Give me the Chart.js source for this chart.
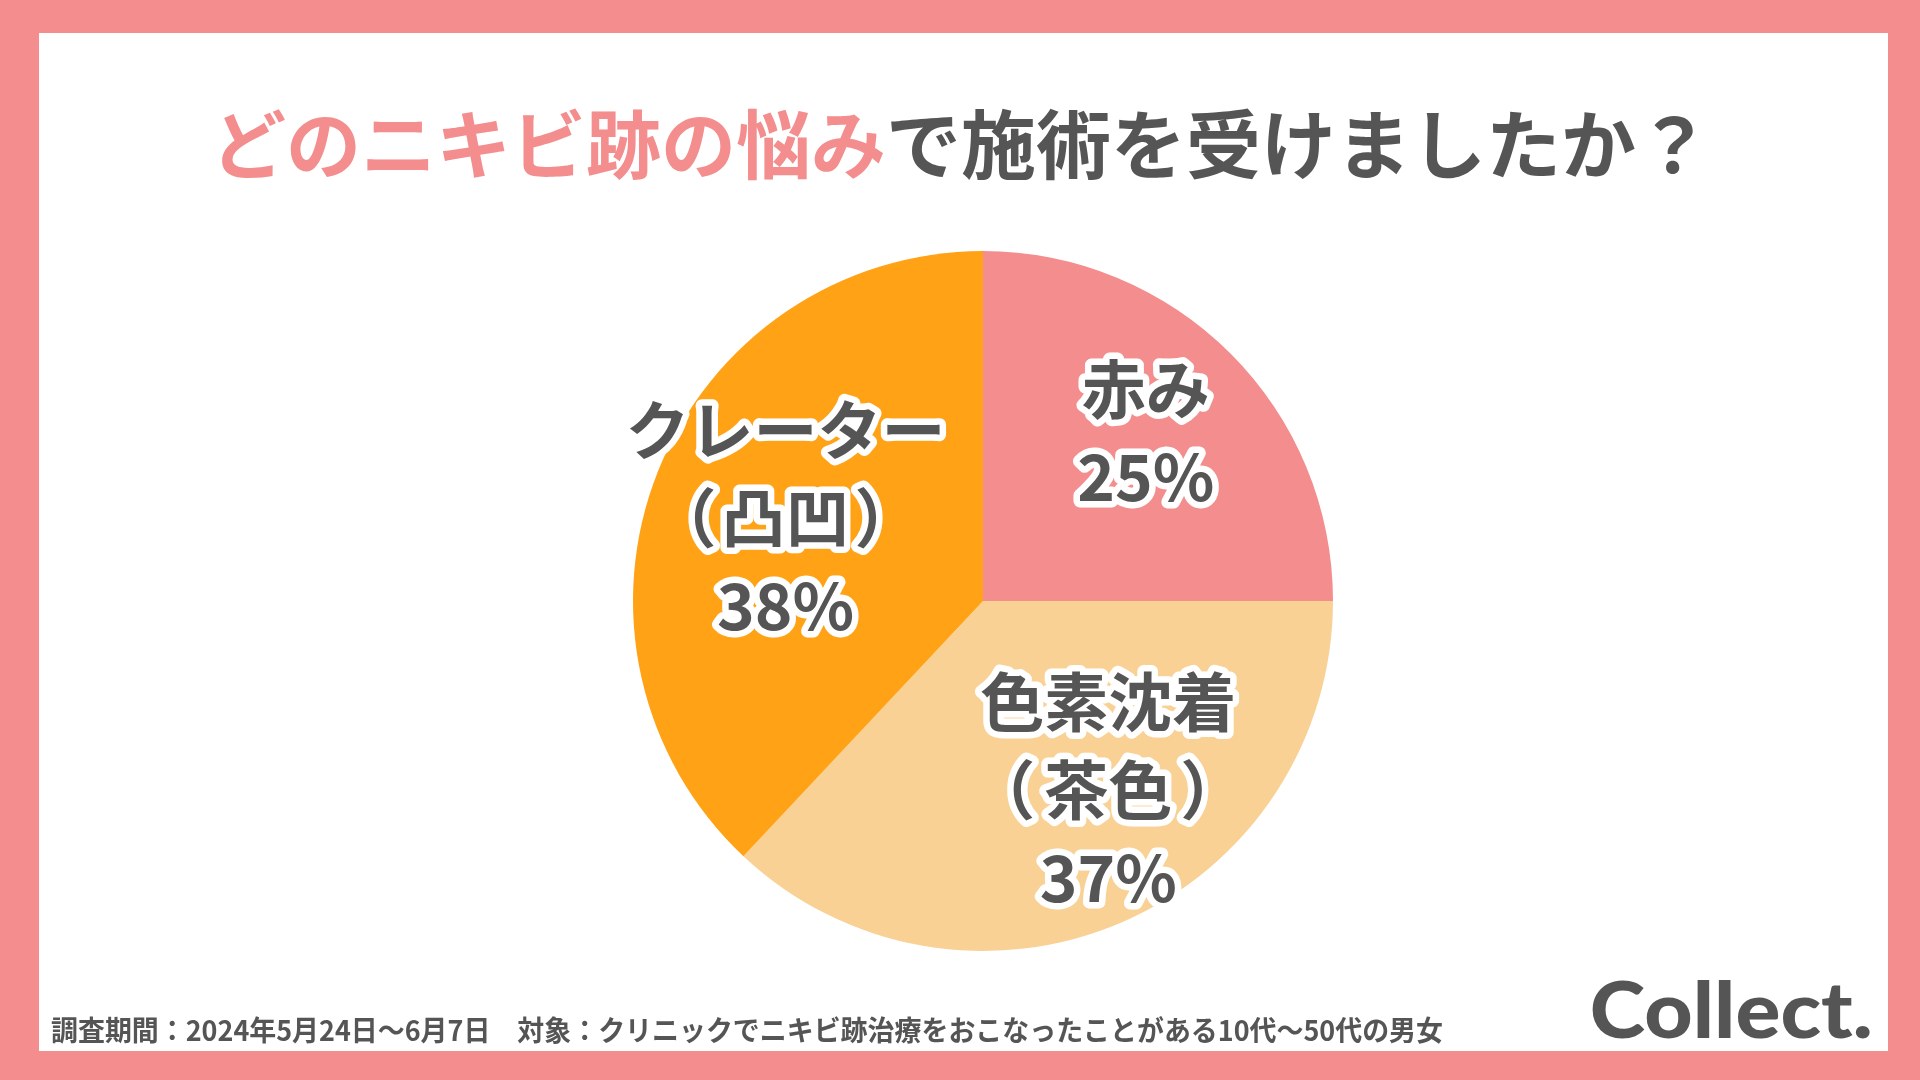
<!DOCTYPE html>
<html>
<head>
<meta charset="utf-8">
<script src="https://cdn.jsdelivr.net/npm/chart.js@4.4.1/dist/chart.umd.min.js"></script>
<style>
  html, body { margin:0; padding:0; width:1920px; height:1080px; overflow:hidden; background:#F48D8D; }
  #panel { position:absolute; left:39px; top:33px; width:1849px; height:1018px; background:#ffffff; }
  #wrap { position:absolute; left:0; top:0; width:1920px; height:1080px; }
</style>
</head>
<body>
<div id="panel"></div>
<div id="wrap"><canvas id="c" width="1920" height="1080"></canvas></div>
<script>
// ---- data ----
const categories = ["赤み", "色素沈着（茶色）", "クレーター（凸凹）"];
const labelLines = [["赤み"], ["色素沈着", "（茶色）"], ["クレーター", "（凸凹）"]];
const values = [25, 37, 38];
const valueLabels = ["25%", "37%", "38%"];
const titlePink = "どのニキビ跡の悩み";
const titleGray = "で施術を受けましたか？";
const footnote = "調査期間：2024年5月24日～6月7日　対象：クリニックでニキビ跡治療をおこなったことがある10代～50代の男女";
const logoText = "Collect.";

// ---- styles ----
const sliceColors = ["#F48D8D", "#F9D195", "#FFA216"];
const labelOffsets = [[2, -7], [35, -20], [14, 0]];
const GRAY = "#555555";
const PINK = "#F48D8D";
const JP = '"Noto Sans CJK JP", "Noto Sans", sans-serif';

function drawParenLine(ctx, text, x, y) {
  const parts = [];
  if (text.startsWith("（") && text.endsWith("）")) {
    const inner = text.slice(1, -1);
    ctx.textAlign = "center";
    const mi = ctx.measureText(inner);
    const inkL = x - mi.actualBoundingBoxLeft;
    const inkR = x + mi.actualBoundingBoxRight;
    ctx.textAlign = "left";
    const mp = ctx.measureText("（");
    const mq = ctx.measureText("）");
    const gap = 12;
    parts.push(["center", inner, x]);
    parts.push(["left", "（", inkL - gap - mp.actualBoundingBoxRight]);
    parts.push(["left", "）", inkR + gap + mq.actualBoundingBoxLeft]);
  } else {
    parts.push(["center", text, x]);
  }
  parts.forEach(p => { ctx.textAlign = p[0]; ctx.strokeText(p[1], p[2], y); });
  parts.forEach(p => { ctx.textAlign = p[0]; ctx.fillText(p[1], p[2], y); });
  ctx.textAlign = "center";
}

const decorPlugin = {
  id: "decor",
  afterDatasetsDraw(chart) {
    const ctx = chart.ctx;
    const meta = chart.getDatasetMeta(0);
    // slice labels
    ctx.save();
    ctx.font = `700 64px ${JP}`;
    ctx.textAlign = "center";
    ctx.textBaseline = "middle";
    ctx.lineJoin = "round";
    ctx.lineWidth = 13;
    ctx.strokeStyle = "#ffffff";
    ctx.fillStyle = GRAY;
    meta.data.forEach((arc, i) => {
      const p = arc.getProps(["x", "y", "startAngle", "endAngle", "outerRadius"], true);
      const mid = (p.startAngle + p.endAngle) / 2;
      const r = p.outerRadius * 0.65;
      const cx = p.x + Math.cos(mid) * r + labelOffsets[i][0];
      const cy = p.y + Math.sin(mid) * r + labelOffsets[i][1];
      const lines = labelLines[i].concat([valueLabels[i]]);
      const lh = 88;
      const y0 = cy - (lines.length - 1) * lh / 2;
      lines.forEach((t, k) => drawParenLine(ctx, t, cx, y0 + k * lh));
    });
    ctx.restore();

    // title
    ctx.save();
    ctx.font = `700 75px ${JP}`;
    ctx.textBaseline = "middle";
    ctx.textAlign = "left";
    const w1 = ctx.measureText(titlePink).width;
    const w2 = ctx.measureText(titleGray).width;
    const tx = 960 - (w1 + w2) / 2 + 1;
    const ty = 144;
    ctx.fillStyle = PINK;
    ctx.fillText(titlePink, tx, ty);
    ctx.fillStyle = GRAY;
    ctx.fillText(titleGray, tx + w1, ty);
    ctx.restore();

    // footnote
    ctx.save();
    ctx.font = `700 28px ${JP}`;
    ctx.textBaseline = "alphabetic";
    ctx.textAlign = "left";
    ctx.fillStyle = GRAY;
    const fw = ctx.measureText(footnote).width;
    const target = 1392;
    ctx.translate(51, 1041);
    ctx.scale(target / fw, 1);
    ctx.fillText(footnote, 0, 0);
    ctx.restore();

    // logo
    ctx.save();
    ctx.font = `900 78px Lato, "DejaVu Sans", sans-serif`;
    ctx.textBaseline = "alphabetic";
    ctx.textAlign = "left";
    ctx.fillStyle = GRAY;
    const lm = ctx.measureText(logoText);
    const lw = lm.actualBoundingBoxLeft + lm.actualBoundingBoxRight;
    const sx = 278 / lw;
    ctx.translate(1592, 1038);
    ctx.scale(sx, 1);
    ctx.fillText(logoText, lm.actualBoundingBoxLeft, 0);
    ctx.restore();
  }
};

new Chart(document.getElementById("c"), {
  type: "pie",
  data: {
    labels: categories,
    datasets: [{
      data: values,
      backgroundColor: sliceColors,
      borderWidth: 0,
      hoverOffset: 0
    }]
  },
  options: {
    responsive: false,
    animation: false,
    events: [],
    layout: { padding: { left: 633, right: 587, top: 251, bottom: 129 } },
    plugins: {
      legend: { display: false },
      tooltip: { enabled: false },
      title: { display: false }
    }
  },
  plugins: [decorPlugin]
});
</script>
</body>
</html>
